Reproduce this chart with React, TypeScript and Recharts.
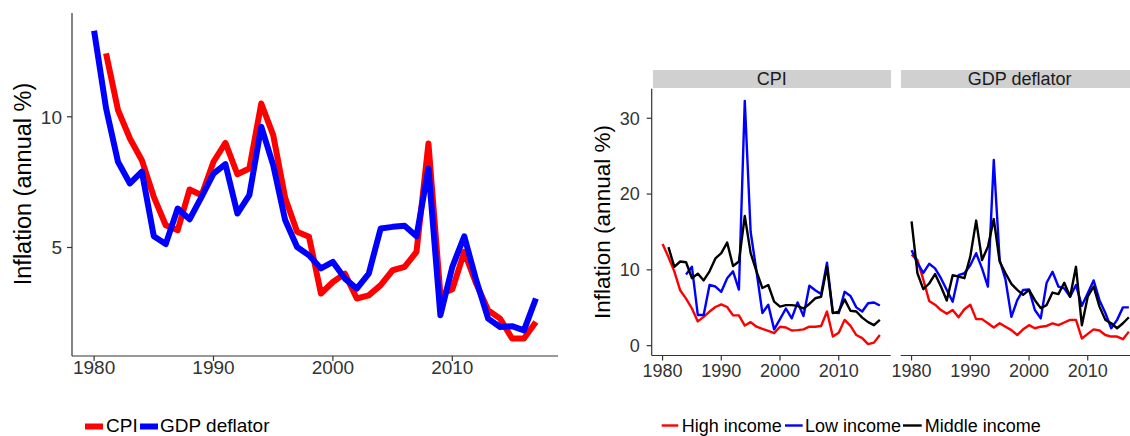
import React from "react";
import { LineChart, Line, XAxis, YAxis } from "recharts";

const FONT = "'Liberation Sans', Arial, Helvetica, sans-serif";
const INK = "#333333";

const YEARS = [
  1980, 1981, 1982, 1983, 1984, 1985, 1986, 1987, 1988, 1989,
  1990, 1991, 1992, 1993, 1994, 1995, 1996, 1997, 1998, 1999,
  2000, 2001, 2002, 2003, 2004, 2005, 2006, 2007, 2008, 2009,
  2010, 2011, 2012, 2013, 2014, 2015, 2016, 2017,
];
const X_TICKS = [1980, 1990, 2000, 2010];
const LEFT_Y_TICKS = [5, 10];
const RIGHT_Y_TICKS = [0, 10, 20, 30];

// left panel: world averages
const CPI_WORLD = [
  null, 12.43, 10.26, 9.17, 8.34, 6.94, 5.85, 5.66, 7.22, 7.0,
  8.28, 9.0, 7.8, 8.02, 10.51, 9.3, 6.9, 5.6, 5.41, 3.24,
  3.68, 4.0, 3.05, 3.17, 3.56, 4.13, 4.26, 4.83, 8.98, 3.2,
  3.4, 4.83, 3.62, 2.6, 2.28, 1.52, 1.52, 2.15,
];
const GDP_WORLD = [
  13.29, 10.33, 8.28, 7.45, 7.9, 5.43, 5.13, 6.49, 6.08, 6.94,
  7.83, 8.19, 6.3, 7.0, 9.62, 8.15, 6.05, 5.02, 4.7, 4.2,
  4.45, 3.81, 3.43, 4.0, 5.73, 5.79, 5.83, 5.43, 8.02, 2.41,
  4.26, 5.43, 3.75, 2.28, 1.96, 1.99, 1.83, 3.05,
];

// right panels: by income group
const CPI_HIGH = [
  13.4, 11.7, 9.8, 7.3, 6.2, 4.9, 3.2, 3.8, 4.5, 5.1,
  5.45, 5.1, 4.0, 4.0, 2.65, 3.1, 2.5, 2.2, 1.95, 1.65,
  2.5, 2.4, 2.0, 2.05, 2.15, 2.5, 2.5, 2.6, 4.5, 1.2,
  1.7, 3.4, 2.6, 1.4, 1.0, 0.2, 0.4, 1.4,
];
const CPI_LOW = [
  null, null, null, null, 9.4, 10.4, 4.05, 4.05, 8.0, 7.8,
  7.1, 8.9, 9.8, 7.4, 32.3, 15.0, 9.8, 4.3, 5.4, 2.15,
  3.5, 4.9, 3.6, 5.7, 3.9, 7.9, 7.3, 6.8, 10.95, 4.35,
  4.3, 7.1, 6.55, 5.05, 4.5, 5.6, 5.7, 5.3,
];
const CPI_MIDDLE = [
  null, 13.0, 10.4, 11.1, 11.0, 8.9, 9.5, 8.6, 9.8, 11.5,
  12.2, 13.6, 10.5, 11.1, 17.1, 12.2, 9.8, 7.6, 8.0, 5.8,
  5.15, 5.35, 5.35, 5.25, 4.9, 5.5, 6.25, 6.45, 10.4, 4.3,
  4.5, 6.1, 4.6, 4.5, 3.7, 3.1, 2.7, 3.4,
];
const GDP_HIGH = [
  12.0, 11.3, 8.7, 5.9, 5.4, 4.7, 4.2, 4.7, 3.75, 4.8,
  5.4, 3.5, 3.5, 2.95, 2.4, 2.95, 2.5, 2.05, 1.4, 2.15,
  2.7, 2.3, 2.5, 2.6, 2.95, 2.7, 3.05, 3.4, 3.4, 0.95,
  1.55, 2.15, 2.0, 1.4, 1.2, 1.2, 0.85, 1.85,
];
const GDP_LOW = [
  12.6, 10.9, 9.6, 10.8, 10.2, 8.9, 7.35, 5.8, 9.3, 9.55,
  10.6, 12.2, 10.2, 7.8, 24.5, 11.3, 8.7, 3.8, 6.0, 7.35,
  7.4, 4.7, 3.6, 8.3, 9.75, 7.8, 7.55, 6.45, 8.0, 5.25,
  6.9, 8.6, 6.0, 4.3, 2.3, 3.4, 5.05, 5.05,
];
const GDP_MIDDLE = [
  16.4, 9.55, 7.45, 8.2, 9.45, 7.8, 5.95, 9.3, 9.1, 8.9,
  11.75, 16.5, 11.3, 13.05, 16.7, 11.1, 9.55, 8.15, 7.35, 6.7,
  7.35, 6.0, 4.95, 5.35, 7.0, 6.8, 8.3, 6.45, 10.4, 2.7,
  6.45, 7.8, 5.15, 3.4, 2.95, 2.3, 2.95, 3.75,
];

const worldData = YEARS.map((year, i) => ({ year, cpi: CPI_WORLD[i], gdp: GDP_WORLD[i] }));
const cpiData = YEARS.map((year, i) => ({ year, high: CPI_HIGH[i], low: CPI_LOW[i], middle: CPI_MIDDLE[i] }));
const gdpData = YEARS.map((year, i) => ({ year, high: GDP_HIGH[i], low: GDP_LOW[i], middle: GDP_MIDDLE[i] }));

const X_DOMAIN: [number, number] = [1978.15, 2018.85];

const axisProps = {
  stroke: INK,
  strokeWidth: 1.2,
};

function IncomeLines() {
  return (
    <>
      <Line dataKey="high" stroke="#ff0000" strokeWidth={2.4} dot={false} isAnimationActive={false} strokeLinejoin="round" />
      <Line dataKey="low" stroke="#0000ff" strokeWidth={2.4} dot={false} isAnimationActive={false} strokeLinejoin="round" />
      <Line dataKey="middle" stroke="#000000" strokeWidth={2.4} dot={false} isAnimationActive={false} strokeLinejoin="round" />
    </>
  );
}

const stripStyle: React.CSSProperties = {
  position: "absolute",
  top: 70,
  height: 18,
  background: "#d0d0d0",
  fontFamily: FONT,
  fontSize: 18,
  color: "#1a1a1a",
  display: "flex",
  alignItems: "center",
  justifyContent: "center",
};

export default function App() {
  return (
    <div style={{ position: "fixed", left: 0, top: 0, width: 1130, height: 436, overflow: "hidden", background: "#fff" }}>
      {/* world CPI vs GDP deflator */}
      <div style={{ position: "absolute", left: 0, top: 0 }}>
        <LineChart width={565} height={436} data={worldData} margin={{ top: 13, right: 7, left: 0, bottom: 50 }}>
          <XAxis
            dataKey="year"
            type="number"
            domain={X_DOMAIN}
            ticks={X_TICKS}
            allowDataOverflow
            height={30}
            tickSize={5}
            tickMargin={0}
            axisLine={axisProps}
            tickLine={axisProps}
            tick={{ fontSize: 19, fill: INK, fontFamily: FONT }}
          />
          <YAxis
            type="number"
            domain={[0.85, 13.97]}
            ticks={LEFT_Y_TICKS}
            allowDataOverflow
            width={72}
            tickSize={5}
            tickMargin={5}
            axisLine={axisProps}
            tickLine={axisProps}
            tick={{ fontSize: 19, fill: INK, fontFamily: FONT }}
          />
          <Line dataKey="cpi" stroke="#ff0000" strokeWidth={6} dot={false} isAnimationActive={false} strokeLinejoin="round" />
          <Line dataKey="gdp" stroke="#0000ff" strokeWidth={6} dot={false} isAnimationActive={false} strokeLinejoin="round" />
        </LineChart>
      </div>

      {/* CPI by income group */}
      <div style={{ ...stripStyle, left: 652.7, width: 238 }}>CPI</div>
      <div style={{ position: "absolute", left: 580, top: 0 }}>
        <LineChart width={315} height={436} data={cpiData} margin={{ top: 88.7, right: 4.3, left: 0, bottom: 50.5 }}>
          <XAxis
            dataKey="year"
            type="number"
            domain={X_DOMAIN}
            ticks={X_TICKS}
            allowDataOverflow
            height={30}
            tickSize={5}
            tickMargin={4}
            axisLine={axisProps}
            tickLine={axisProps}
            tick={{ fontSize: 18, fill: INK, fontFamily: FONT }}
          />
          <YAxis
            type="number"
            domain={[-1.3, 33.9]}
            ticks={RIGHT_Y_TICKS}
            allowDataOverflow
            width={71.7}
            tickSize={5}
            tickMargin={7}
            axisLine={axisProps}
            tickLine={axisProps}
            tick={{ fontSize: 18, fill: INK, fontFamily: FONT }}
          />
          {IncomeLines()}
        </LineChart>
      </div>

      {/* GDP deflator by income group */}
      <div style={{ ...stripStyle, left: 900.7, width: 238 }}>GDP deflator</div>
      <div style={{ position: "absolute", left: 890, top: 0 }}>
        <LineChart width={255} height={436} data={gdpData} margin={{ top: 88.7, right: 5.3, left: 10.7, bottom: 50.5 }}>
          <XAxis
            dataKey="year"
            type="number"
            domain={X_DOMAIN}
            ticks={X_TICKS}
            allowDataOverflow
            height={30}
            tickSize={5}
            tickMargin={4}
            axisLine={axisProps}
            tickLine={axisProps}
            tick={{ fontSize: 18, fill: INK, fontFamily: FONT }}
          />
          <YAxis type="number" domain={[-1.3, 33.9]} allowDataOverflow hide />
          {IncomeLines()}
        </LineChart>
      </div>

      {/* axis titles and legends */}
      <svg width={1130} height={436} style={{ position: "absolute", left: 0, top: 0, pointerEvents: "none" }} fontFamily={FONT}>
        <text x={22.5} y={184} transform="rotate(-90 22.5 184)" textAnchor="middle" dominantBaseline="central" fontSize={23.5} fill="#000">
          Inflation (annual %)
        </text>
        <text x={602} y={222} transform="rotate(-90 602 222)" textAnchor="middle" dominantBaseline="central" fontSize={22.5} fill="#000">
          Inflation (annual %)
        </text>

        <rect x={85} y={423.5} width={18} height={6} fill="#ff0000" />
        <text x={106} y={432} fontSize={19} fill="#000">CPI</text>
        <rect x={140} y={423.5} width={18} height={6} fill="#0000ff" />
        <text x={160} y={432} fontSize={19} fill="#000">GDP deflator</text>

        <line x1={661.7} x2={678.3} y1={425.5} y2={425.5} stroke="#ff0000" strokeWidth={2.4} />
        <text x={681.7} y={431.5} fontSize={18} fill="#000">High income</text>
        <line x1={785} x2={802.7} y1={425.5} y2={425.5} stroke="#0000ff" strokeWidth={2.4} />
        <text x={805} y={431.5} fontSize={18} fill="#000">Low income</text>
        <line x1={903} x2={921.7} y1={425.5} y2={425.5} stroke="#000000" strokeWidth={2.4} />
        <text x={924.7} y={431.5} fontSize={18} fill="#000">Middle income</text>
      </svg>
    </div>
  );
}
